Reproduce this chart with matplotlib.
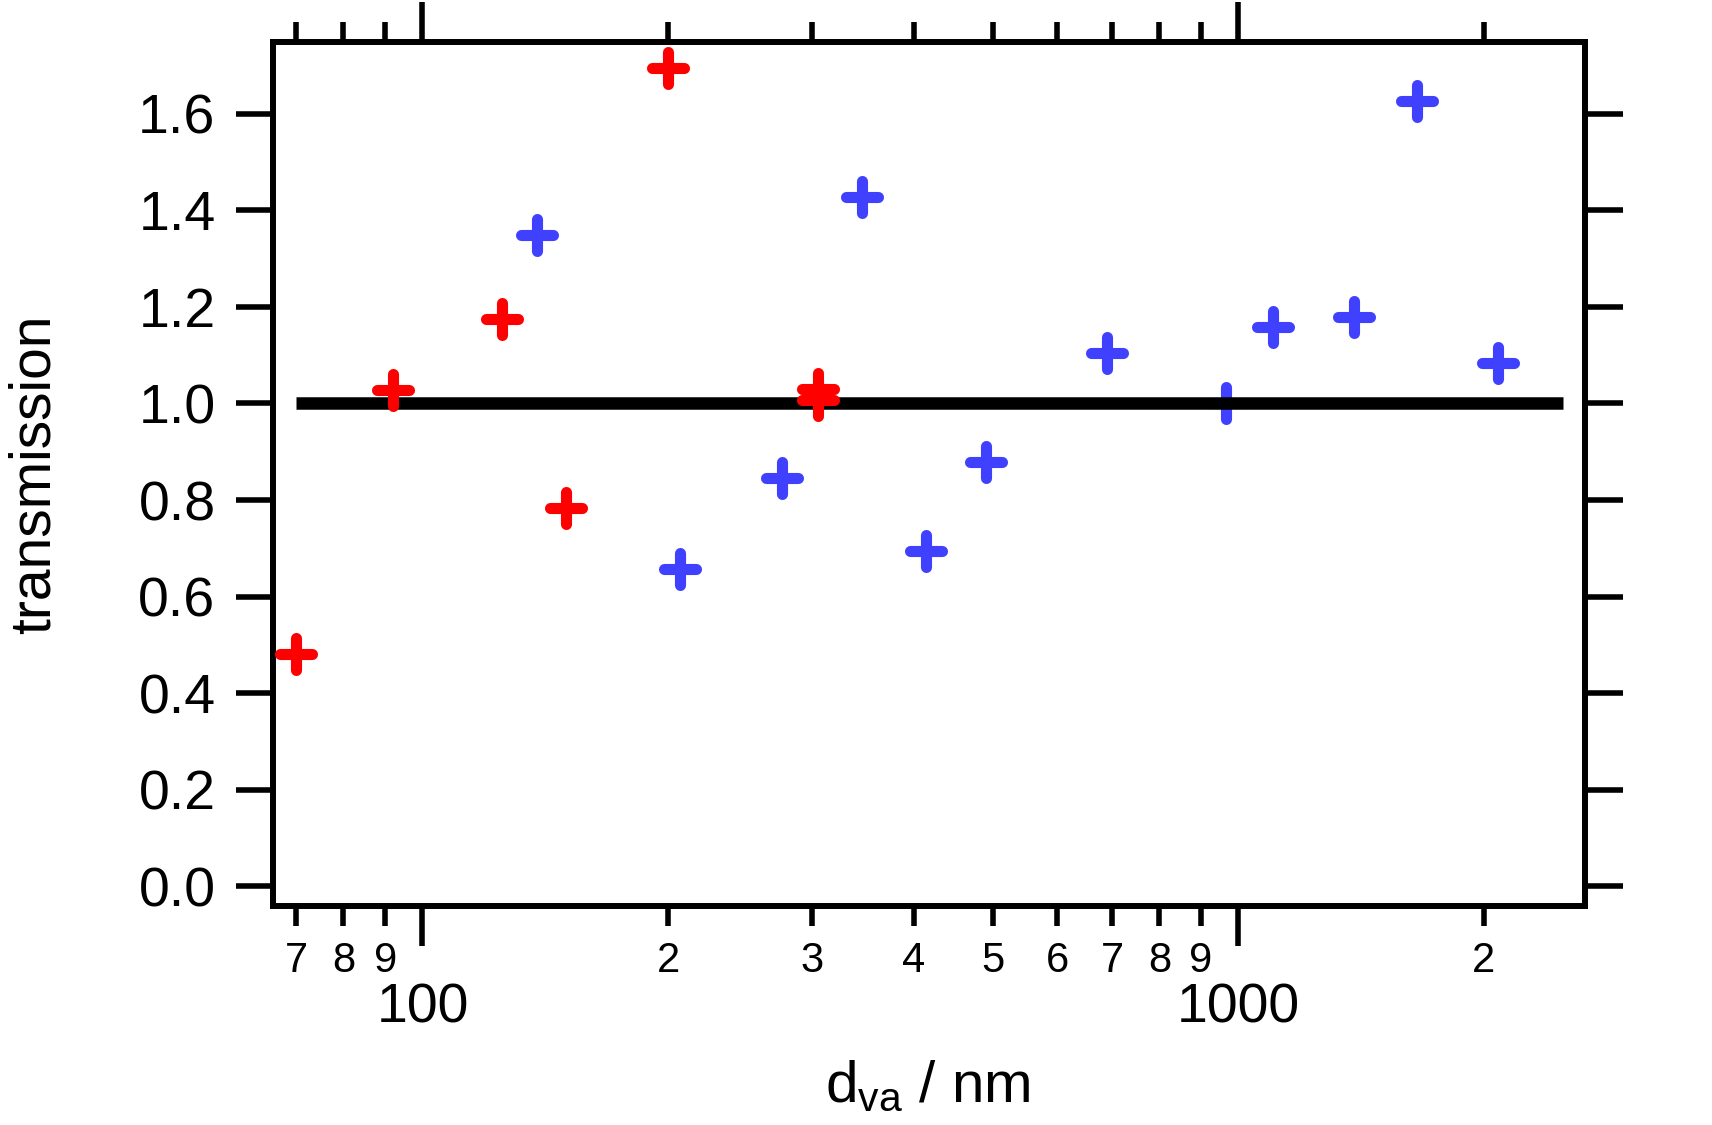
import numpy as np
import matplotlib
matplotlib.use("Agg")
import matplotlib.pyplot as plt
from matplotlib.markers import MarkerStyle
from matplotlib.ticker import LogLocator, FuncFormatter, FixedLocator, NullLocator

plt.rcParams['font.family'] = ['Liberation Sans', 'DejaVu Sans']
plt.rcParams['mathtext.fontset'] = 'custom'
plt.rcParams['mathtext.rm'] = 'Liberation Sans'
plt.rcParams['mathtext.it'] = 'Liberation Sans'

# Data
red_d = [70, 92, 125, 150, 200, 305, 305]
red_t = [0.48, 1.028, 1.175, 0.784, 1.696, 1.030, 1.007]
blue_d = [138, 207, 276, 346, 414, 491, 691, 966, 1103, 1385, 1656, 2080]
blue_t = [1.350, 0.657, 0.845, 1.427, 0.694, 0.879, 1.105, 1.0, 1.158, 1.180, 1.626, 1.083]
ref_d = [70, 2500]
ref_t = [1.0, 1.0]
y_ticks = [0.0, 0.2, 0.4, 0.6, 0.8, 1.0, 1.2, 1.4, 1.6]

fig = plt.figure(figsize=(17.12, 11.25), dpi=100)
ax = fig.add_axes([0.1592, 0.1947, 0.7668, 0.768])

mk = MarkerStyle('+', capstyle='round')
ax.plot(blue_d, blue_t, linestyle='none', marker=mk, markersize=23, markeredgewidth=8,
        color='#4040ff', zorder=2)
ax.plot(ref_d, ref_t, color='black', linewidth=9, solid_capstyle='butt', zorder=3)
ax.plot(red_d, red_t, linestyle='none', marker=mk, markersize=23, markeredgewidth=8,
        color='#ff0000', zorder=4)

ax.set_xscale('log')
ax.set_xlim(65.5, 2662)
ax.set_ylim(-0.041, 1.749)

ax.xaxis.set_major_locator(LogLocator(base=10))
ax.xaxis.set_minor_locator(LogLocator(base=10, subs=[2, 3, 4, 5, 6, 7, 8, 9]))
ax.xaxis.set_major_formatter(FuncFormatter(lambda v, p: f"{int(round(v))}"))

def minor_fmt(v, p):
    e = np.floor(np.log10(v) + 1e-9)
    return f"{int(round(v / 10 ** e))}"

ax.xaxis.set_minor_formatter(FuncFormatter(minor_fmt))
ax.yaxis.set_major_locator(FixedLocator(y_ticks))
ax.yaxis.set_major_formatter(FuncFormatter(lambda v, p: f"{v:.1f}"))
ax.yaxis.set_minor_locator(NullLocator())

for s in ax.spines.values():
    s.set_linewidth(4.3)

ax.tick_params(axis='both', which='both', direction='out', top=True, right=True,
               width=4, color='black')
ax.tick_params(axis='x', which='major', length=29, labelsize=40, pad=26)
ax.tick_params(axis='x', which='minor', length=14.5, labelsize=30, pad=11)
ax.tick_params(axis='y', which='major', length=27, labelsize=40, pad=14)

fig.text(0.0205, 0.578, 'transmission', rotation=90, ha='center', va='center', fontsize=41)
fig.text(0.542, 0.0204, r'd$_{\mathrm{va}}$ / nm', ha='center', va='baseline', fontsize=42)

fig.savefig('out.png', dpi=100)
